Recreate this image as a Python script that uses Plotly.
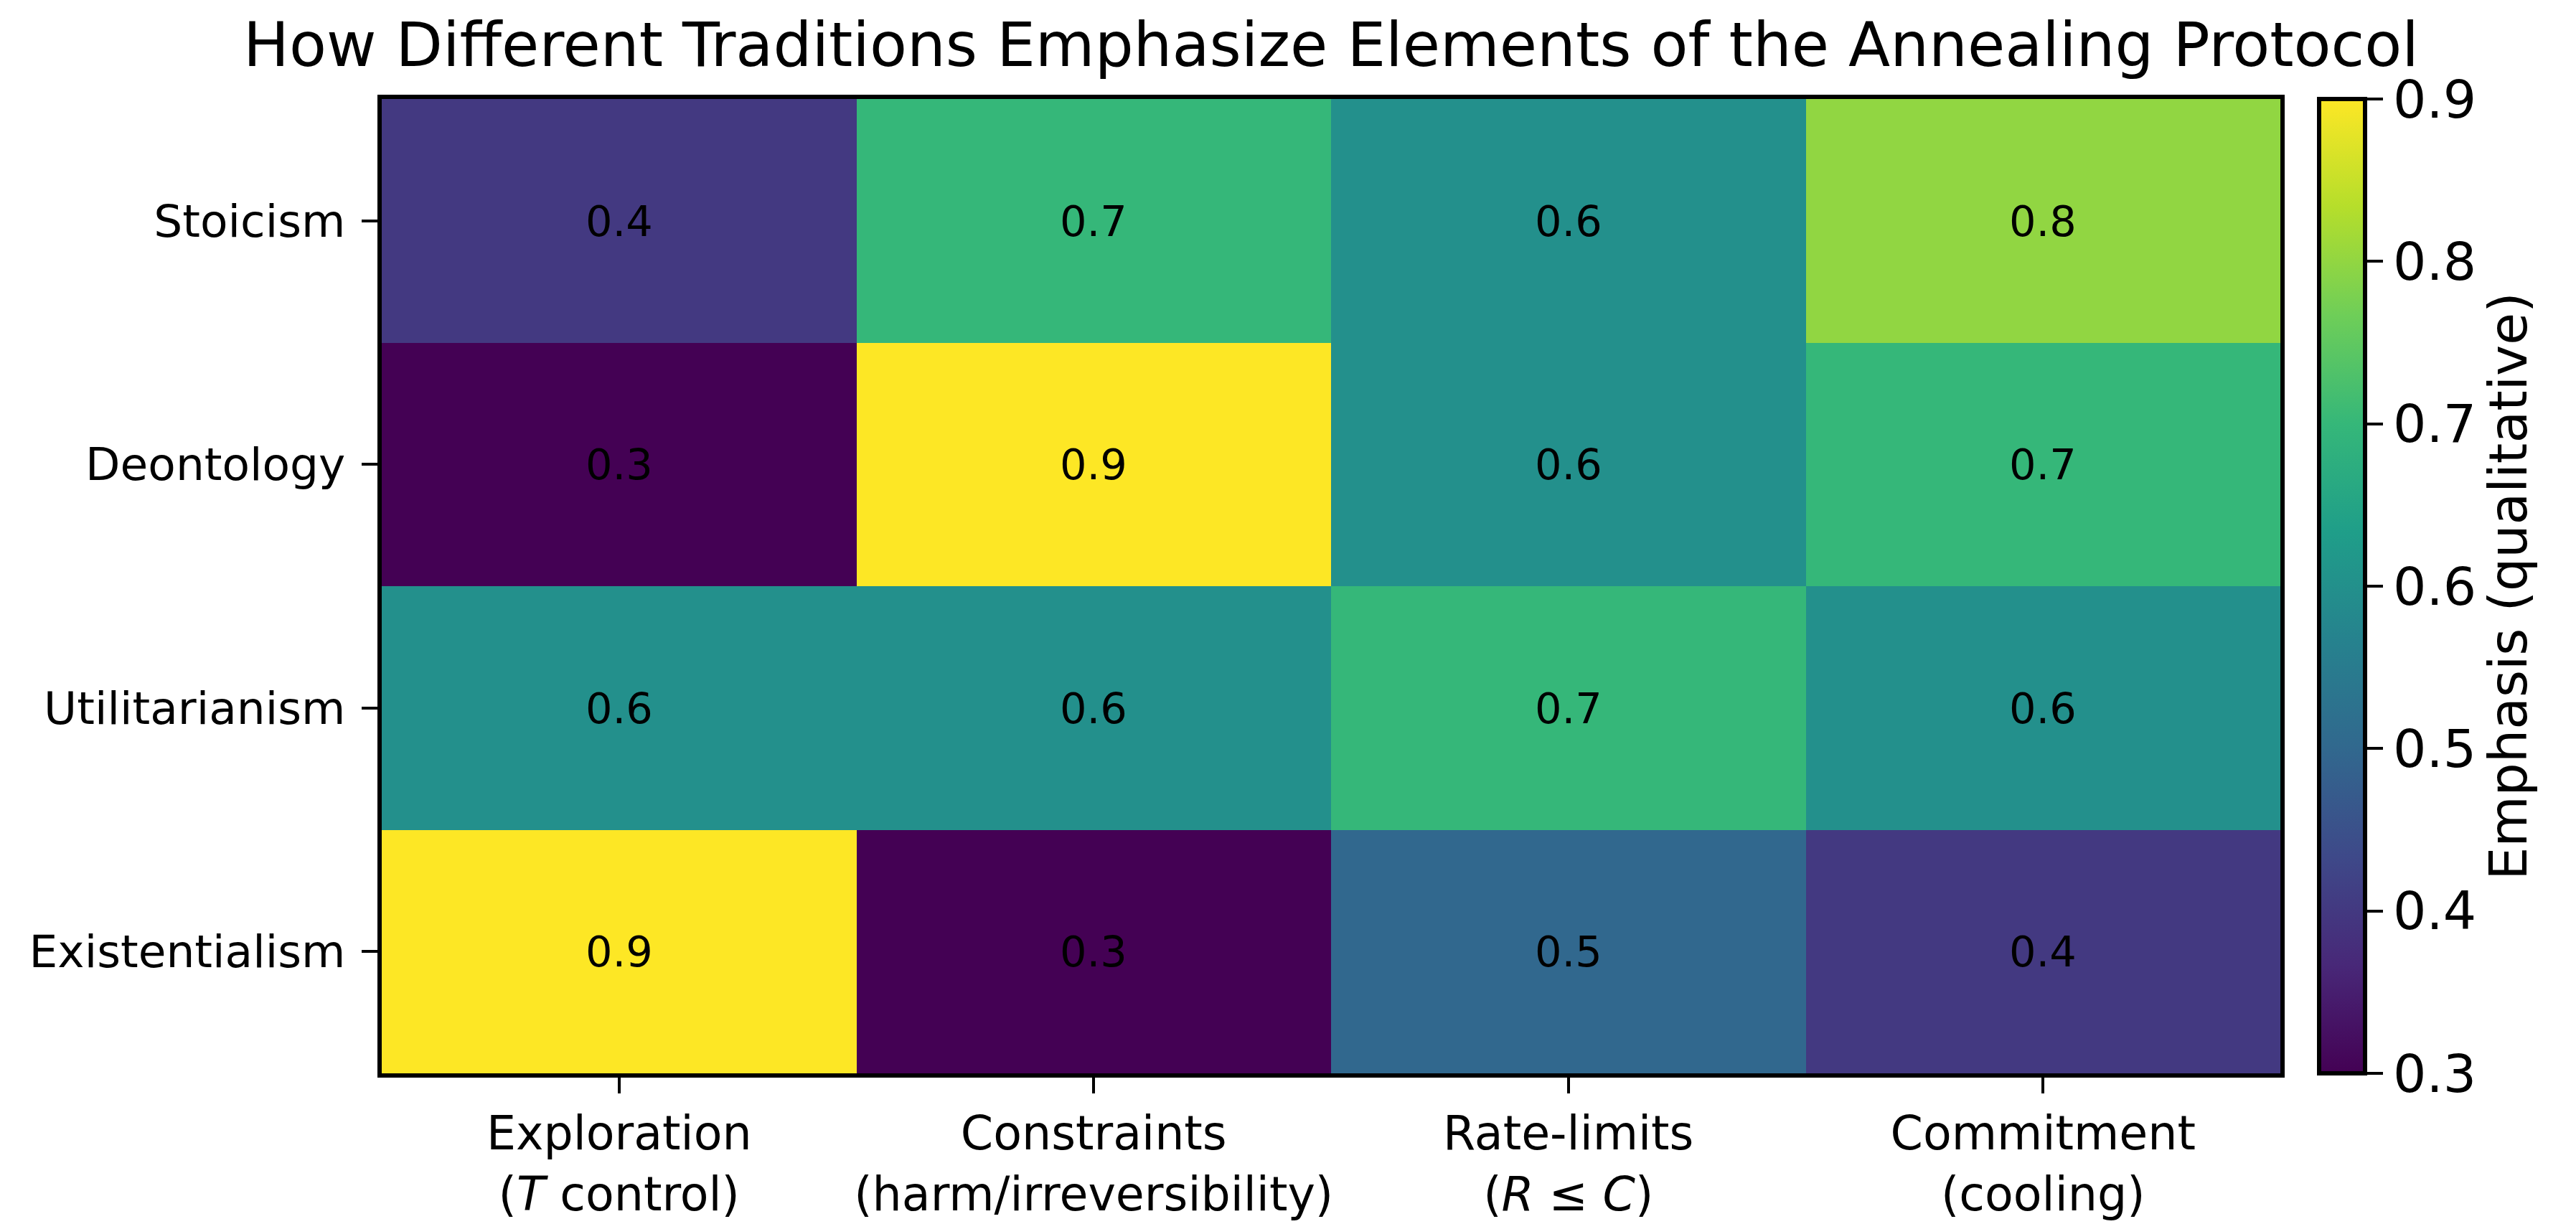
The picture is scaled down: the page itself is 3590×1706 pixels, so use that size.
import plotly.graph_objects as go

traditions = ["Stoicism", "Deontology", "Utilitarianism", "Existentialism"]
elements = [
    "Exploration<br>(<i>T</i> control)",
    "Constraints<br>(harm/irreversibility)",
    "Rate-limits<br>(<i>R</i> ≤ <i>C</i>)",
    "Commitment<br>(cooling)",
]
stoicism = [0.4, 0.7, 0.6, 0.8]
deontology = [0.3, 0.9, 0.6, 0.7]
utilitarianism = [0.6, 0.6, 0.7, 0.6]
existentialism = [0.9, 0.3, 0.5, 0.4]
cbar_ticks = [0.3, 0.4, 0.5, 0.6, 0.7, 0.8, 0.9]

z = [stoicism, deontology, utilitarianism, existentialism]

FONT = "DejaVu Sans"
W, H = 3590, 1706
L, R, T, B = 524, 3170, 130, 1500

fig = go.Figure(
    go.Heatmap(
        z=z,
        x=elements,
        y=traditions,
        colorscale="Viridis",
        zmin=0.3,
        zmax=0.9,
        texttemplate="%{z:.1f}",
        textfont=dict(family=FONT, size=59, color="black"),
        xgap=0,
        ygap=0,
        colorbar=dict(
            x=(3224 - L) / (R - L),
            xanchor="left",
            y=0.5,
            yanchor="middle",
            len=1.0,
            lenmode="fraction",
            thickness=64,
            xpad=0,
            ypad=0,
            outlinewidth=6,
            outlinecolor="black",
            tickvals=cbar_ticks,
            ticktext=[f"{v:.1f}" for v in cbar_ticks],
            ticks="outside",
            ticklen=22,
            tickwidth=4,
            tickcolor="black",
            tickfont=dict(family=FONT, size=73, color="black"),
            title=dict(
                text="Emphasis (qualitative)",
                side="right",
                font=dict(family=FONT, size=73, color="black"),
            ),
        ),
    )
)

fig.update_layout(
    width=W,
    height=H,
    margin=dict(l=L, r=W - R, t=T, b=H - B, pad=0),
    paper_bgcolor="white",
    plot_bgcolor="white",
    font=dict(family=FONT, color="black"),
    title=dict(
        text="How Different Traditions Emphasize Elements of the Annealing Protocol",
        font=dict(family=FONT, size=85, color="black"),
        x=(L + R) / 2 / W,
        xanchor="center",
        xref="container",
        y=1 - 54 / H,
        yanchor="middle",
        yref="container",
    ),
    xaxis=dict(
        showline=True,
        mirror=True,
        linecolor="black",
        linewidth=6,
        ticks="outside",
        ticklen=22,
        tickwidth=4,
        tickcolor="black",
        tickfont=dict(family=FONT, size=65, color="black"),
        showgrid=False,
        zeroline=False,
    ),
    yaxis=dict(
        autorange="reversed",
        showline=True,
        mirror=True,
        linecolor="black",
        linewidth=6,
        ticks="outside",
        ticklen=22,
        tickwidth=4,
        tickcolor="black",
        tickfont=dict(family=FONT, size=63, color="black"),
        ticklabelstandoff=10,
        showgrid=False,
        zeroline=False,
    ),
)

fig.write_html("out.html")
